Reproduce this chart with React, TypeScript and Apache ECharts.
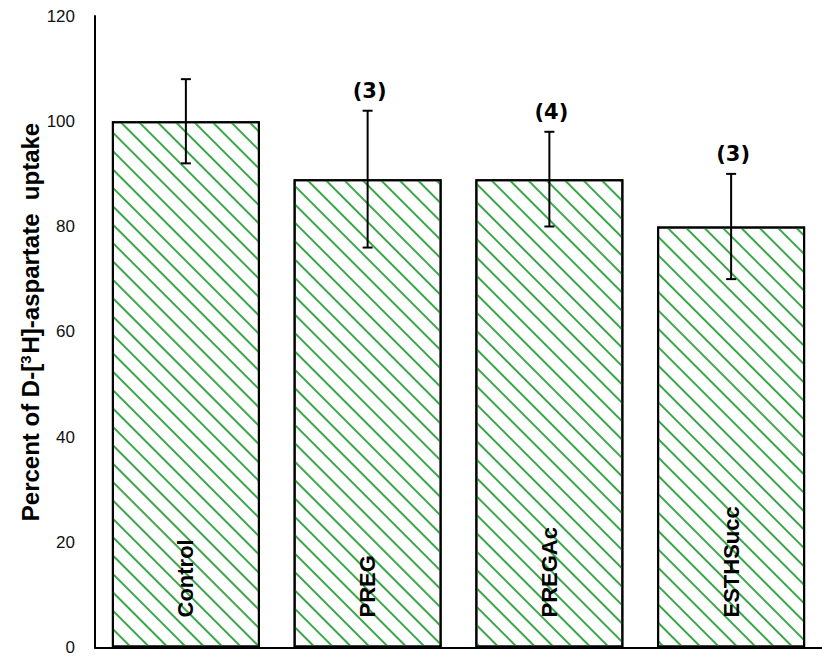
import React, { useEffect, useRef } from "react";
import * as echarts from "echarts";

const categories = ["Control", "PREG", "PREGAc", "ESTHSucc"];
const values = [100, 89, 89, 80];
const errLow = [92, 76, 80, 70];
const errHigh = [108, 102, 98, 90];
const nLabels = ["", "(3)", "(4)", "(3)"];
const yTicks = { min: 0, max: 120, interval: 20 };

const SANS = "Arial, 'Liberation Sans', Helvetica, sans-serif";

export default function App() {
  const ref = useRef<HTMLDivElement>(null);
  useEffect(() => {
    const chart = echarts.init(ref.current!, null, { renderer: "svg" });
    const errData = categories.map((c, i) => [i, errLow[i], errHigh[i]]);
    chart.setOption({
      animation: false,
      backgroundColor: "#fff",
      grid: { left: 95, top: 16, width: 740, height: 634 },
      xAxis: {
        type: "category",
        data: categories,
        axisLine: { lineStyle: { color: "#000", width: 2 } },
        axisTick: { show: false },
        axisLabel: { show: false },
      },
      yAxis: {
        type: "value",
        min: yTicks.min,
        max: yTicks.max,
        interval: yTicks.interval,
        axisLine: { show: true, lineStyle: { color: "#000", width: 2 } },
        axisTick: { show: false },
        splitLine: { show: false },
        axisLabel: { fontSize: 17, color: "#111", margin: 20, fontFamily: SANS },
      },
      graphic: [
        {
          type: "text",
          x: 30,
          y: 322,
          rotation: Math.PI / 2,
          style: {
            text: "Percent of D-[{sup|3}H]-aspartate  uptake",
            fontSize: 24,
            fontWeight: "bold",
            fontFamily: SANS,
            fill: "#000",
            align: "center",
            verticalAlign: "middle",
            rich: {
              sup: { fontSize: 15, fontWeight: "bold", verticalAlign: "top", padding: [0, 2, 10, 0], fill: "#000", fontFamily: SANS },
            },
          },
        },
      ],
      series: [
        {
          type: "bar",
          data: values,
          barWidth: 148,
          itemStyle: {
            color: "#fff",
            borderColor: "#000",
            borderWidth: 2,
            decal: {
              symbol: "rect",
              symbolSize: 1,
              color: "#3aa84a",
              dashArrayX: [1, 0],
              dashArrayY: [1.5, 11],
              rotation: Math.PI / 4,
            },
          },
          label: {
            show: true,
            formatter: (p: any) => p.name,
            position: "insideBottom",
            rotate: 90,
            align: "left",
            verticalAlign: "middle",
            distance: 30,
            fontSize: 22,
            fontWeight: "bold",
            color: "#000",
            fontFamily: SANS,
          },
        },
        {
          type: "custom",
          data: errData,
          z: 10,
          renderItem: (params: any, api: any) => {
            const i = api.value(0);
            const lo = api.coord([i, api.value(1)]);
            const hi = api.coord([i, api.value(2)]);
            const cap = 5;
            const ls = { stroke: "#000", lineWidth: 2 };
            const label = nLabels[params.dataIndex];
            const children: any[] = [
              { type: "line", shape: { x1: hi[0], y1: hi[1], x2: lo[0], y2: lo[1] }, style: ls },
              { type: "line", shape: { x1: hi[0] - cap, y1: hi[1], x2: hi[0] + cap, y2: hi[1] }, style: ls },
              { type: "line", shape: { x1: lo[0] - cap, y1: lo[1], x2: lo[0] + cap, y2: lo[1] }, style: ls },
            ];
            if (label) {
              children.push({
                type: "text",
                x: hi[0] + 2,
                y: hi[1] - 20,
                style: {
                  text: label,
                  fontSize: 21,
                  fontWeight: "bold",
                  fontFamily: "'DejaVu Sans', Verdana, sans-serif",
                  fill: "#000",
                  align: "center",
                  verticalAlign: "middle",
                },
              });
            }
            return { type: "group", children };
          },
        },
      ],
    });
    return () => chart.dispose();
  }, []);
  return (
    <div
      ref={ref}
      style={{ position: "absolute", left: 0, top: 0, width: 822, height: 656 }}
    />
  );
}
